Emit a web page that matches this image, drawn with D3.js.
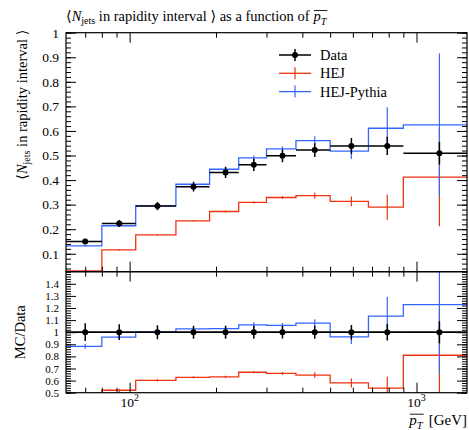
<!DOCTYPE html>
<html>
<head>
<meta charset="utf-8">
<script src="https://cdn.jsdelivr.net/npm/d3@7"></script>
<style>
  body { margin: 0; background: #fff; }
  svg text { font-family: "Liberation Serif", "DejaVu Serif", "Times New Roman", serif; fill: #000; }
</style>
</head>
<body>
<div id="chart"></div>
<script>
// bin edges in GeV (pT bar)
var binEdges = [60, 80, 105, 145, 190, 240, 300, 380, 500, 680, 900, 1500];
// data points
var dataX = [70, 92, 125, 167, 216, 271, 341, 442, 593, 791, 1202];
var dataY = [0.150, 0.223, 0.294, 0.373, 0.431, 0.462, 0.499, 0.522, 0.539, 0.539, 0.509];
var dataErr = [0.011, 0.0145, 0.017, 0.020, 0.023, 0.025, 0.026, 0.028, 0.032, 0.037, 0.046];
// HEJ
var hejY = [0.030, 0.116, 0.177, 0.234, 0.272, 0.309, 0.329, 0.337, 0.313, 0.290, 0.412];
var hejErr = [0.002, 0.003, 0.003, 0.003, 0.004, 0.004, 0.006, 0.012, 0.020, 0.051, 0.200];
// HEJ-Pythia
var pyY = [0.1325, 0.214, 0.295, 0.383, 0.444, 0.490, 0.527, 0.561, 0.518, 0.611, 0.625];
var pyErr = [0.003, 0.004, 0.005, 0.006, 0.007, 0.010, 0.010, 0.017, 0.032, 0.085, 0.290];

var mainTicks = [0.1, 0.2, 0.3, 0.4, 0.5, 0.6, 0.7, 0.8, 0.9, 1];
var ratioTicks = [0.5, 0.6, 0.7, 0.8, 0.9, 1, 1.1, 1.2, 1.3, 1.4];
var xMajor = [100, 1000];
var xMinor = [70, 80, 90, 200, 300, 400, 500, 600, 700, 800, 900];

var seriesNames = ["Data", "HEJ", "HEJ-Pythia"];
var seriesColors = ["#000000", "#ee3311", "#3366ff"];

var FONT = "'Liberation Serif', 'DejaVu Serif', serif";
var width = 469, height = 430;
var pLeft = 66, pRight = 467, pTop = 32.7, pMid = 271.7, pBottom = 392.7;

var svg = d3.select("#chart").append("svg")
    .attr("width", width)
    .attr("height", height)
    .attr("font-family", FONT);

var x = d3.scaleLog().domain([60, 1500]).range([pLeft, pRight]);
var yMain = d3.scaleLinear().domain([0.027, 1]).range([pMid, pTop]);
var yRatio = d3.scaleLinear().domain([0.5, 1.5]).range([pBottom, pMid]);

var defs = svg.append("defs");
defs.append("clipPath").attr("id", "clipMain").append("rect")
    .attr("x", pLeft).attr("y", pTop).attr("width", pRight - pLeft).attr("height", pMid - pTop);
defs.append("clipPath").attr("id", "clipRatio").append("rect")
    .attr("x", pLeft).attr("y", pMid).attr("width", pRight - pLeft).attr("height", pBottom - pMid);

function stepPath(vals, y) {
    var p = "";
    vals.forEach(function (v, i) {
        var x0 = x(binEdges[i]), x1 = x(binEdges[i + 1]);
        p += (i === 0 ? "M" : "L") + x0 + "," + y(v) + "L" + x1 + "," + y(v);
    });
    return p;
}

function drawMC(g, vals, errs, y, color) {
    g.append("path")
        .attr("d", stepPath(vals, y))
        .attr("fill", "none")
        .attr("stroke", color)
        .attr("stroke-width", 1.3);
    g.selectAll(null)
        .data(vals)
        .enter()
        .append("line")
        .attr("x1", function (d, i) { return x(dataX[i]); })
        .attr("x2", function (d, i) { return x(dataX[i]); })
        .attr("y1", function (d, i) { return y(d - errs[i]); })
        .attr("y2", function (d, i) { return y(d + errs[i]); })
        .attr("stroke", color)
        .attr("stroke-width", 1.2);
}

function drawData(g, vals, errs, y) {
    g.selectAll(null)
        .data(vals)
        .enter()
        .append("line")
        .attr("x1", function (d, i) { return x(binEdges[i]); })
        .attr("x2", function (d, i) { return x(binEdges[i + 1]); })
        .attr("y1", function (d) { return y(d); })
        .attr("y2", function (d) { return y(d); })
        .attr("stroke", "#000")
        .attr("stroke-width", 1.5);
    g.selectAll(null)
        .data(vals)
        .enter()
        .append("line")
        .attr("x1", function (d, i) { return x(dataX[i]); })
        .attr("x2", function (d, i) { return x(dataX[i]); })
        .attr("y1", function (d, i) { return y(d - errs[i]); })
        .attr("y2", function (d, i) { return y(d + errs[i]); })
        .attr("stroke", "#000")
        .attr("stroke-width", 1.5);
    g.selectAll(null)
        .data(vals)
        .enter()
        .append("circle")
        .attr("cx", function (d, i) { return x(dataX[i]); })
        .attr("cy", function (d) { return y(d); })
        .attr("r", 3)
        .attr("fill", "#000");
}

// main panel
var gMain = svg.append("g").attr("clip-path", "url(#clipMain)");
drawMC(gMain, hejY, hejErr, yMain, seriesColors[1]);
drawMC(gMain, pyY, pyErr, yMain, seriesColors[2]);
drawData(gMain, dataY, dataErr, yMain);

// ratio panel (MC / Data)
var hejR = hejY.map(function (d, i) { return d / dataY[i]; });
var hejRErr = hejErr.map(function (d, i) { return d / dataY[i]; });
var pyR = pyY.map(function (d, i) { return d / dataY[i]; });
var pyRErr = pyErr.map(function (d, i) { return d / dataY[i]; });
var dataR = dataY.map(function () { return 1; });
var dataRErr = dataErr.map(function (d, i) { return d / dataY[i]; });

var gRatio = svg.append("g").attr("clip-path", "url(#clipRatio)");
drawMC(gRatio, hejR, hejRErr, yRatio, seriesColors[1]);
drawMC(gRatio, pyR, pyRErr, yRatio, seriesColors[2]);
drawData(gRatio, dataR, dataRErr, yRatio);

// axes
function minorRange(a, b) {
    return d3.range(Math.round(a * 50), Math.round(b * 50) + 1).map(function (k) { return k / 50; });
}

function yAxes(y, labels, lo, hi, fontSize) {
    var minors = minorRange(lo, hi);
    svg.append("g").attr("transform", "translate(" + pLeft + ",0)")
        .call(d3.axisLeft(y).tickValues(minors).tickSize(-5).tickFormat(""));
    svg.append("g").attr("transform", "translate(" + pRight + ",0)")
        .call(d3.axisRight(y).tickValues(minors).tickSize(-5).tickFormat(""));
    var g = svg.append("g").attr("transform", "translate(" + pLeft + ",0)")
        .call(d3.axisLeft(y).tickValues(labels).tickSize(-10).tickPadding(7).tickFormat(function (d) { return String(d); }));
    g.attr("font-family", FONT).attr("font-size", fontSize);
    svg.append("g").attr("transform", "translate(" + pRight + ",0)")
        .call(d3.axisRight(y).tickValues(labels).tickSize(-10).tickFormat(""));
}
yAxes(yMain, mainTicks, 0.04, 1.0, 13.5);
yAxes(yRatio, ratioTicks, 0.5, 1.5, 11);

function xAxes(yPos, dir) {
    svg.append("g").attr("transform", "translate(0," + yPos + ")")
        .call((dir > 0 ? d3.axisBottom(x) : d3.axisTop(x)).tickValues(xMinor).tickSize(-5).tickFormat(""));
    svg.append("g").attr("transform", "translate(0," + yPos + ")")
        .call((dir > 0 ? d3.axisBottom(x) : d3.axisTop(x)).tickValues(xMajor).tickSize(-10).tickFormat(""));
}
xAxes(pTop, -1);
xAxes(pMid, 1);
xAxes(pMid, -1);
xAxes(pBottom, 1);

svg.selectAll(".domain").remove();
svg.selectAll(".tick line").attr("stroke", "#000").attr("stroke-width", 1);

// frames
[[pTop, pMid], [pMid, pBottom]].forEach(function (r) {
    svg.append("rect")
        .attr("x", pLeft).attr("y", r[0])
        .attr("width", pRight - pLeft).attr("height", r[1] - r[0])
        .attr("fill", "none").attr("stroke", "#000").attr("stroke-width", 1.2);
});
// ratio reference line at 1
svg.append("line")
    .attr("x1", pLeft).attr("x2", pRight)
    .attr("y1", yRatio(1)).attr("y2", yRatio(1))
    .attr("stroke", "#000").attr("stroke-width", 1.2);

// x tick labels (powers of ten)
xMajor.forEach(function (v) {
    var t = svg.append("text")
        .attr("x", x(v)).attr("y", 407)
        .attr("text-anchor", "middle")
        .style("font-size", "13.5px");
    t.append("tspan").text("10");
    t.append("tspan").attr("dy", -6).style("font-size", "10px").text(String(Math.round(Math.log10(v))));
});

// italic p_T with an overline over both
function pT(parent, px, py, size) {
    var t = parent.append("text").attr("x", px).attr("y", py).style("font-size", size + "px");
    t.append("tspan").style("font-style", "italic").text("p");
    t.append("tspan").style("font-style", "italic").attr("dy", size * 0.25).style("font-size", (size * 0.7) + "px").text("T");
    var w = t.node().getComputedTextLength();
    parent.append("line")
        .attr("x1", px + 0.5).attr("x2", px + w + 1)
        .attr("y1", py - size * 0.72).attr("y2", py - size * 0.72)
        .attr("stroke", "#000").attr("stroke-width", 0.9);
    return w;
}

// x label
var xlY = 425;
var xlUnit = svg.append("text")
    .attr("x", pRight).attr("y", xlY)
    .attr("text-anchor", "end")
    .style("font-size", "15px")
    .text("[GeV]");
var unitW = xlUnit.node().getComputedTextLength();
var tmp = svg.append("g");
var pw = pT(tmp, 0, xlY, 15);
tmp.remove();
pT(svg, pRight - unitW - pw - 6, xlY, 15);

// title
var tt = svg.append("text")
    .attr("x", pLeft).attr("y", 21)
    .style("font-size", "14.5px");
tt.append("tspan").text("\u27e8");
tt.append("tspan").style("font-style", "italic").text("N");
tt.append("tspan").attr("dy", 3).style("font-size", "10px").text("jets");
tt.append("tspan").attr("dy", -3).text(" in rapidity interval \u27e9 as a function of");
var titleW = tt.node().getComputedTextLength();
pT(svg, pLeft + titleW + 4, 21, 14.5);

// y labels
var yl = svg.append("text")
    .attr("transform", "translate(27," + (pTop - 3) + ") rotate(-90)")
    .attr("text-anchor", "end")
    .style("font-size", "14.5px");
yl.append("tspan").text("\u27e8");
yl.append("tspan").style("font-style", "italic").text("N");
yl.append("tspan").attr("dy", 3).style("font-size", "10px").text("jets");
yl.append("tspan").attr("dy", -3).text(" in rapidity interval \u27e9");

svg.append("text")
    .attr("transform", "translate(25," + yRatio(1) + ") rotate(-90)")
    .attr("text-anchor", "middle")
    .style("font-size", "14.5px")
    .text("MC/Data");

// legend
var legY = [55, 73.3, 91.6];
var leg = svg.append("g");
seriesNames.forEach(function (name, i) {
    var c = seriesColors[i];
    leg.append("line").attr("x1", 279).attr("x2", 311).attr("y1", legY[i]).attr("y2", legY[i])
        .attr("stroke", c).attr("stroke-width", i === 0 ? 1.5 : 1.3);
    leg.append("line").attr("x1", 295).attr("x2", 295).attr("y1", legY[i] - 6).attr("y2", legY[i] + 6)
        .attr("stroke", c).attr("stroke-width", i === 0 ? 1.5 : 1.2);
    if (i === 0) {
        leg.append("circle").attr("cx", 295).attr("cy", legY[i]).attr("r", 3).attr("fill", c);
    }
    leg.append("text").attr("x", 320).attr("y", legY[i] + 5)
        .style("font-size", "14.5px").text(name);
});
</script>
</body>
</html>
